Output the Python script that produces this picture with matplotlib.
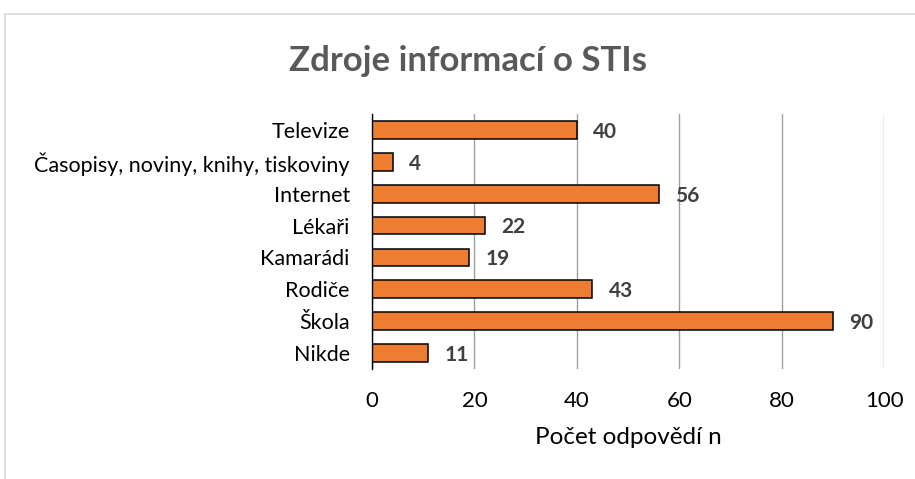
import matplotlib

matplotlib.use("Agg")
import matplotlib.pyplot as plt
from matplotlib.lines import Line2D

categories = [
    "Televize",
    "Časopisy, noviny, knihy, tiskoviny",
    "Internet",
    "Lékaři",
    "Kamarádi",
    "Rodiče",
    "Škola",
    "Nikde",
]
counts = [40, 4, 56, 22, 19, 43, 90, 11]
x_ticks = [0, 20, 40, 60, 80, 100]

plt.rcParams["font.family"] = ["Lato", "DejaVu Sans"]

fig = plt.figure(figsize=(9.15, 4.79), dpi=100)
ax = fig.add_axes([0.4066, 0.2296, 0.5596, 0.5324])

pos = list(range(len(categories)))
ax.barh(pos, counts, height=0.56, color="#ED7D31", edgecolor="#000000",
        linewidth=1.1, zorder=3)
for y, v in zip(pos, counts):
    ax.text(v + 3.2, y + 0.06, str(v), va="center", ha="left",
            fontsize=15, fontweight="bold", color="#404040")

ax.set_xlim(0, 100)
ax.set_ylim(len(categories) - 0.5, -0.5)
ax.set_xticks(x_ticks)
ax.set_yticks(pos)
ax.set_yticklabels(categories)
ax.tick_params(axis="both", length=0, colors="#000000")
ax.tick_params(axis="x", pad=16, labelsize=16)
ax.tick_params(axis="y", pad=16, labelsize=15.5)
ax.xaxis.grid(True, color="#A0A0A0", linewidth=1.0, zorder=0)
for side in ("top", "right", "bottom"):
    ax.spines[side].set_visible(False)
ax.spines["left"].set_color("#000000")
ax.spines["left"].set_linewidth(1.0)
ax.spines["left"].set_zorder(4)

ax.set_xlabel("Počet odpovědí n", fontsize=17.5, labelpad=11)
fig.text(0.512, 0.873, "Zdroje informací o STIs", ha="center", va="center",
         fontsize=25, fontweight="bold", color="#595959")

# chart frame (top and left edges)
fig.add_artist(Line2D([5 / 915, 1], [1 - 14 / 479] * 2, color="#D9D9D9",
                      linewidth=1.2, transform=fig.transFigure))
fig.add_artist(Line2D([5 / 915] * 2, [0, 1 - 14 / 479], color="#D9D9D9",
                      linewidth=1.2, transform=fig.transFigure))

fig.savefig("out.png", dpi=100)
